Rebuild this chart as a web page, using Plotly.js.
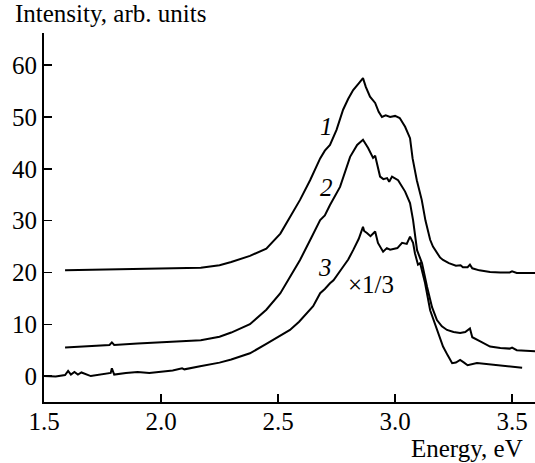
<!DOCTYPE html>
<html>
<head>
<meta charset="utf-8">
<script src="https://cdn.plot.ly/plotly-3.0.1.min.js"></script>
<style>html,body{margin:0;padding:0;background:#fff;}#chart{width:535px;height:463px;}</style>
</head>
<body>
<div id="chart"></div>
<script>
const energy1 = [1.59,1.70,1.80,1.90,2.00,2.10,2.17,2.25,2.30,2.38,2.45,2.51,2.54,2.594,2.637,2.68,2.70,2.722,2.75,2.778,2.80,2.821,2.845,2.863,2.875,2.893,2.915,2.93,2.944,2.96,2.979,3.00,3.02,3.043,3.064,3.075,3.093,3.114,3.13,3.15,3.162,3.192,3.205,3.23,3.26,3.28,3.29,3.31,3.32,3.33,3.36,3.406,3.45,3.49,3.50,3.52,3.60];
const curve1 = [20.4,20.5,20.6,20.7,20.8,20.9,20.9,21.4,22.0,23.2,24.6,27.5,29.8,34.0,37.8,42.0,43.5,44.6,47.5,51.4,53.5,55.2,56.5,57.5,55.8,53.9,52.7,51.0,50.0,50.3,50.0,50.2,49.8,48.1,45.9,42.0,37.8,34.0,30.0,26.3,25.0,22.9,22.4,21.8,21.3,21.4,21.0,21.0,21.5,20.8,20.4,20.1,20.0,20.0,20.2,19.9,19.9];

const energy2 = [1.59,1.70,1.78,1.79,1.80,1.90,2.00,2.10,2.17,2.25,2.30,2.38,2.45,2.51,2.55,2.594,2.64,2.68,2.70,2.722,2.765,2.808,2.838,2.863,2.885,2.906,2.915,2.923,2.936,2.95,2.966,2.975,2.987,3.013,3.043,3.064,3.077,3.094,3.115,3.137,3.158,3.179,3.20,3.222,3.25,3.278,3.30,3.32,3.33,3.36,3.406,3.45,3.49,3.50,3.52,3.60];
const curve2 = [5.5,5.8,6.0,6.5,6.0,6.3,6.5,6.8,6.9,7.6,8.4,10.0,12.8,16.0,19.0,22.4,26.5,30.1,31.0,33.0,36.5,42.3,44.6,45.6,44.0,42.1,42.5,41.1,38.5,38.0,38.2,37.5,38.5,37.8,35.6,33.4,30.1,24.3,21.8,17.2,13.3,10.8,9.6,8.9,8.5,8.3,8.5,9.2,7.5,6.8,5.7,5.4,5.3,5.5,5.0,4.8];

const energy3 = [1.50,1.55,1.59,1.603,1.615,1.63,1.645,1.66,1.70,1.726,1.76,1.785,1.79,1.80,1.85,1.90,1.95,2.00,2.05,2.09,2.10,2.167,2.25,2.30,2.38,2.45,2.51,2.551,2.59,2.624,2.65,2.68,2.70,2.722,2.737,2.778,2.80,2.821,2.845,2.863,2.868,2.88,2.895,2.915,2.927,2.949,2.965,2.979,3.01,3.03,3.05,3.064,3.077,3.085,3.098,3.107,3.115,3.128,3.15,3.179,3.205,3.225,3.244,3.26,3.278,3.295,3.31,3.35,3.40,3.449,3.50,3.543];
const curve3 = [0.0,-0.1,0.2,1.0,0.3,0.8,0.3,0.7,0.0,0.2,0.5,0.6,1.5,0.3,0.6,0.8,0.6,0.8,1.1,1.5,1.3,1.9,2.6,3.2,4.4,6.2,7.8,8.9,10.5,12.2,13.5,16.0,16.8,17.9,18.5,21.1,22.5,24.3,26.5,28.8,28.0,27.6,27.0,27.9,25.7,24.0,24.7,24.4,24.7,25.7,25.5,26.9,25.7,23.7,21.5,21.8,20.5,18.0,12.7,8.9,5.7,4.0,2.5,2.6,3.1,2.6,2.1,2.5,2.3,2.1,1.8,1.6];

const xTicks = [1.5,2.0,2.5,3.0,3.5];
const xTickText = ["1.5","2.0","2.5","3.0","3.5"];
const yTicks = [0,10,20,30,40,50,60];
const curveLabels = ["1","2","3"];
const labelX = [2.709,2.705,2.700];
const labelY = [48.1,36.3,21.0];

const FONT = '"Liberation Serif", "Times New Roman", serif';
const lineStyle = {color:"#000", width:2};
const traces = [
  {x:energy1, y:curve1, mode:"lines", line:lineStyle, hoverinfo:"skip"},
  {x:energy2, y:curve2, mode:"lines", line:lineStyle, hoverinfo:"skip"},
  {x:energy3, y:curve3, mode:"lines", line:lineStyle, hoverinfo:"skip"}
];
const annotations = curveLabels.map((t,i)=>({x:labelX[i], y:labelY[i], xref:"x", yref:"y", text:t, showarrow:false, font:{family:FONT, size:25, color:"#000", style:"italic"}}));
annotations.push({x:2.897, y:17.6, xref:"x", yref:"y", text:"×1/3", showarrow:false, font:{family:FONT, size:25, color:"#000"}});
annotations.push({x:-0.063, y:1.0515, xref:"paper", yref:"paper", xanchor:"left", yanchor:"middle", text:"Intensity, arb. units", showarrow:false, font:{family:FONT, size:25, color:"#000"}});
annotations.push({x:0.98, y:-0.126, xref:"paper", yref:"paper", xanchor:"right", yanchor:"middle", text:"Energy, eV", showarrow:false, font:{family:FONT, size:25, color:"#000"}});

const layout = {
  width:535, height:463,
  margin:{l:44, r:0, t:33, b:61, pad:0},
  paper_bgcolor:"#fff", plot_bgcolor:"#fff",
  showlegend:false,
  font:{family:FONT, size:25, color:"#000"},
  xaxis:{range:[1.5,3.598], tickvals:xTicks, ticktext:xTickText, ticks:"inside", ticklen:8, tickwidth:1.5, tickcolor:"#000",
         ticklabelstandoff:-4,
         showline:true, linecolor:"#000", linewidth:2, showgrid:false, zeroline:false, tickfont:{family:FONT, size:25, color:"#000"}},
  yaxis:{range:[-5,66.2], tickvals:yTicks, ticks:"inside", ticklen:8, tickwidth:1.5, tickcolor:"#000",
         showline:true, linecolor:"#000", linewidth:2, showgrid:false, zeroline:false, tickfont:{family:FONT, size:25, color:"#000"}},
  annotations:annotations
};
Plotly.newPlot("chart", traces, layout, {staticPlot:true, displayModeBar:false});
</script>
</body>
</html>
